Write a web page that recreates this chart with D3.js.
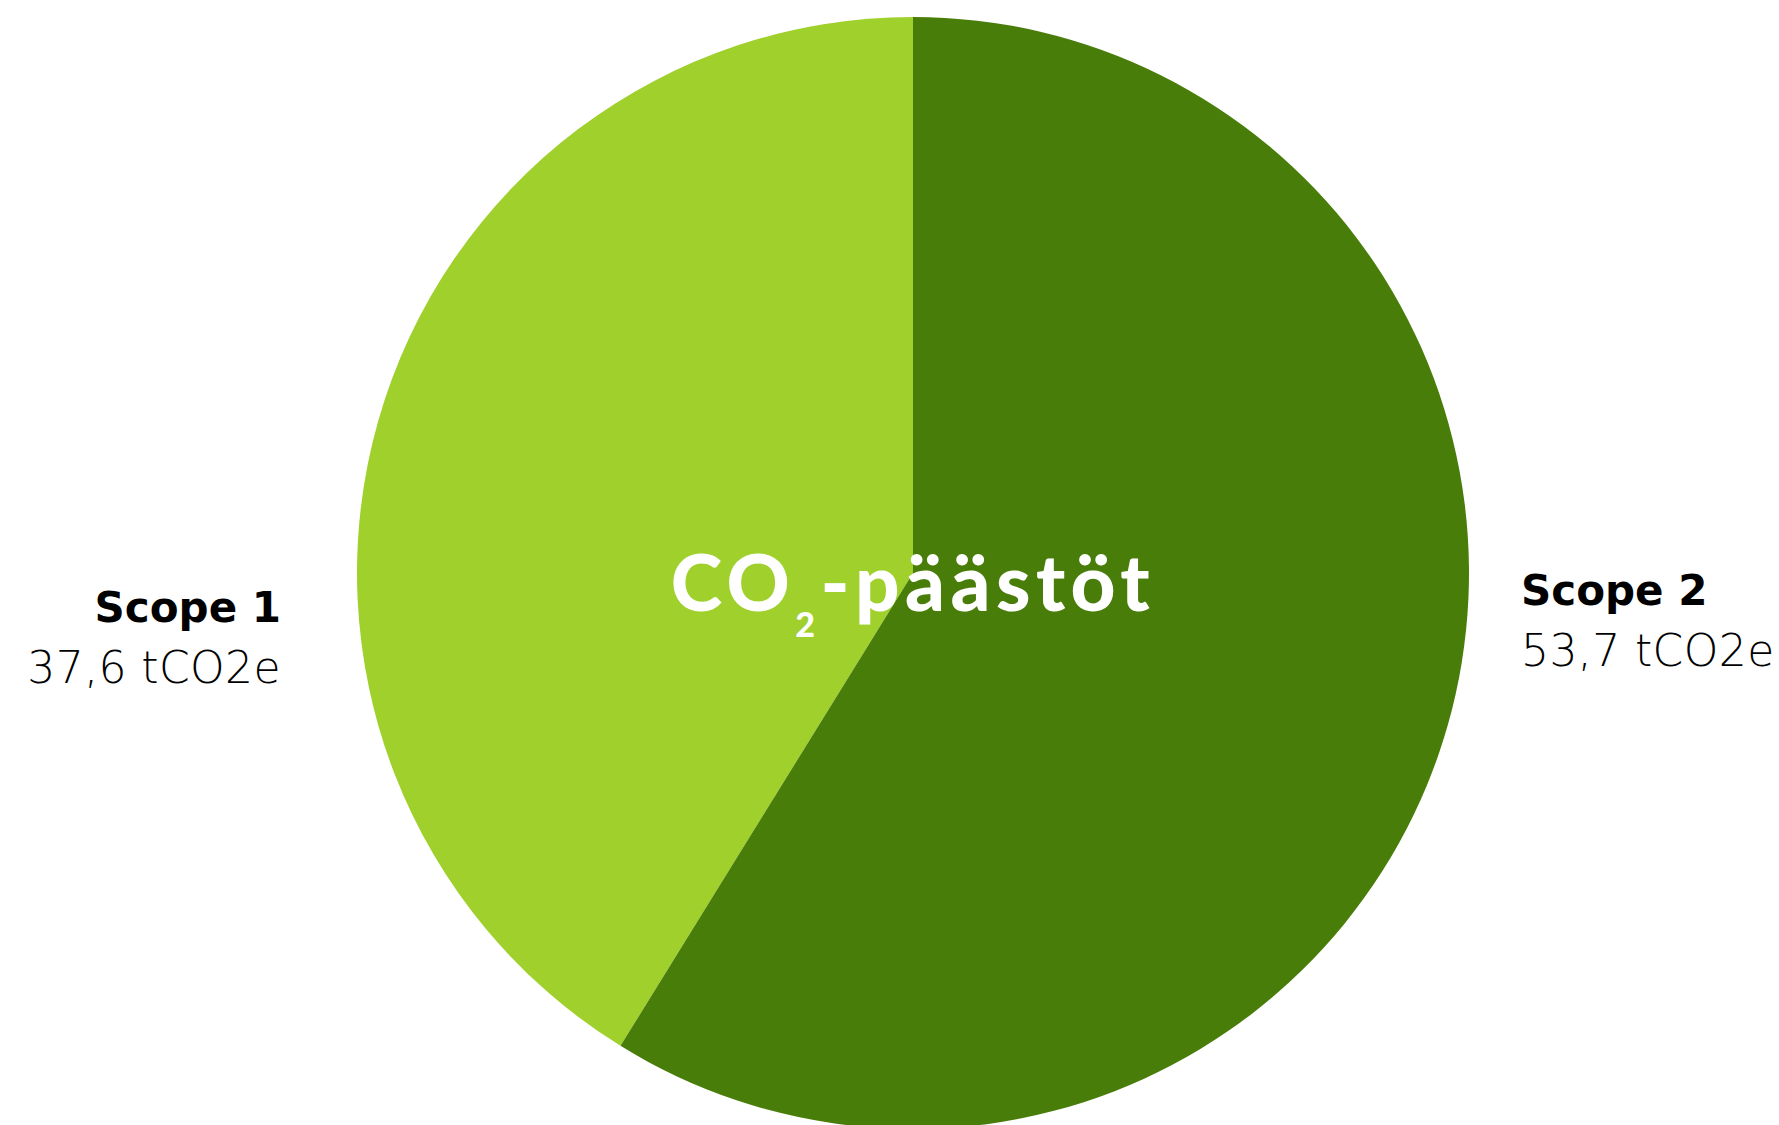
<!DOCTYPE html>
<html>
<head>
<meta charset="utf-8">
<script src="https://cdn.jsdelivr.net/npm/d3@7"></script>
<style>
  body { margin: 0; background: #fff; }
  svg { display: block; }
</style>
</head>
<body>
<svg id="chart"></svg>
<script>
// data
const categories = ["Scope 1", "Scope 2"];
const values = [37.6, 53.7];
const valueLabels = ["37,6 tCO2e", "53,7 tCO2e"];
const colors = ["#9fd02c", "#497d0a"];

const width = 1779, height = 1125;
const cx = 913, cy = 573, radius = 556;

const svg = d3.select("#chart")
    .attr("width", width)
    .attr("height", height);

const pie = d3.pie()
    .value(d => d.value); // default sort: largest first, from 12 o'clock

const arc = d3.arc()
    .innerRadius(0)
    .outerRadius(radius);

const rows = categories.map((c, i) => ({name: c, value: values[i], label: valueLabels[i], color: colors[i]}));

const g = svg.append("g")
    .attr("transform", "translate(" + cx + "," + cy + ")");

g.selectAll("path")
    .data(pie(rows))
    .join("path")
    .attr("d", arc)
    .attr("fill", d => d.data.color);

// centre title
const title = svg.append("text")
    .attr("x", 913)
    .attr("y", 611)
    .attr("text-anchor", "middle")
    .attr("fill", "#fff")
    .style("font-family", "Lato, sans-serif")
    .style("font-weight", 900)
    .style("font-size", "78px")
    .style("letter-spacing", "5.5px");
title.append("tspan").text("CO");
title.append("tspan").attr("dy", 26).style("font-size", "34px").text("2");
title.append("tspan").attr("dy", -26).text("-päästöt");

// side labels
const labelPos = [
    {x: 281, y: 622, anchor: "end"},
    {x: 1521, y: 605, anchor: "start"}
];

rows.forEach((r, i) => {
    const p = labelPos[i];
    svg.append("text")
        .attr("x", p.x)
        .attr("y", p.y)
        .attr("text-anchor", p.anchor)
        .style("font-family", "'DejaVu Sans', sans-serif")
        .style("font-weight", 700)
        .style("font-size", "42px")
        .attr("fill", "#000")
        .text(r.name);
    svg.append("text")
        .attr("x", p.x)
        .attr("y", p.y + 61)
        .attr("text-anchor", p.anchor)
        .style("font-family", "'DejaVu Sans', sans-serif")
        .style("font-weight", 200)
        .style("font-size", "44px")
        .style("letter-spacing", "0.4px")
        .attr("fill", "#000")
        .text(r.label);
});
</script>
</body>
</html>
